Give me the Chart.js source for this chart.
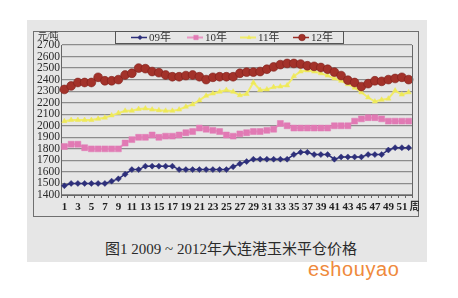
<!DOCTYPE html>
<html>
<head>
<meta charset="utf-8">
<script src="https://cdn.jsdelivr.net/npm/chart.js"></script>
<style>
  html, body { margin:0; padding:0; background:#ffffff; width:458px; height:298px; overflow:hidden; }
  #paper { position:absolute; left:27px; top:20px; width:400px; height:242px; background:#e6e6e6; }
  #frame { position:absolute; left:33px; top:31px; width:386px; height:186px; border:1px solid #6f6f6f; box-sizing:border-box; }
  #wrap { position:absolute; left:33px; top:31px; width:386px; height:186px; }
  #caption { position:absolute; left:0; width:458px; top:237px; text-align:center; font-family:"Liberation Serif","Noto Sans CJK SC",serif; font-size:15px; color:#2a2a2a; padding-left:2px; }
  #caption .cn { font-family:"Noto Sans CJK SC",sans-serif; font-size:15px; }
  #mark { position:absolute; left:308px; top:258px; font-family:"Liberation Sans",Arial,sans-serif; font-size:20px; color:#ef8a3c; letter-spacing:0.6px; }
</style>
</head>
<body>
<div id="paper"></div>
<div id="frame"></div>
<div id="wrap"><canvas id="c"></canvas></div>
<div id="caption"><span class="cn">图</span>1 2009 ~ 2012<span class="cn">年大连港玉米平仓价格</span></div>
<div id="mark">eshouyao</div>
<script>
const weeks = ['1','2','3','4','5','6','7','8','9','10','11','12','13','14','15','16','17','18','19','20','21','22','23','24','25','26','27','28','29','30','31','32','33','34','35','36','37','38','39','40','41','42','43','44','45','46','47','48','49','50','51','52'];
const seriesNames = ['09年','10年','11年','12年'];
const price09 = [1480,1500,1500,1500,1500,1500,1500,1520,1540,1580,1620,1620,1650,1650,1650,1650,1650,1620,1620,1620,1620,1620,1620,1620,1620,1645,1670,1690,1710,1710,1710,1710,1710,1710,1750,1770,1770,1750,1750,1750,1710,1730,1730,1730,1730,1750,1750,1750,1790,1810,1810,1810];
const price10 = [1820,1840,1840,1810,1800,1800,1800,1800,1800,1850,1880,1900,1900,1920,1900,1910,1910,1920,1940,1950,1980,1970,1960,1950,1920,1910,1930,1940,1950,1950,1960,1970,2020,2000,1980,1980,1980,1980,1980,1980,2000,2000,2000,2040,2060,2070,2070,2060,2040,2040,2040,2040];
const price11 = [2040,2050,2050,2050,2050,2060,2070,2090,2110,2130,2130,2145,2150,2140,2135,2130,2130,2140,2165,2185,2220,2260,2280,2295,2310,2295,2265,2275,2375,2310,2315,2335,2340,2350,2430,2470,2480,2470,2455,2435,2410,2390,2360,2330,2290,2245,2210,2225,2235,2305,2270,2290];
const price12 = [2315,2345,2375,2375,2375,2420,2390,2390,2400,2440,2455,2500,2495,2470,2460,2440,2425,2425,2435,2440,2425,2400,2420,2425,2425,2425,2455,2465,2465,2470,2490,2510,2530,2540,2540,2535,2520,2515,2505,2490,2465,2435,2395,2375,2340,2365,2390,2385,2400,2410,2420,2400];
const yMin = 1400, yMax = 2700, yStep = 100;
const unitLabel = '元/吨';
const xUnit = '周';

const serif = '"Liberation Serif","Noto Sans CJK SC",serif';

const decor = {
  id: 'decor',
  afterDraw(chart) {
    const ctx = chart.ctx;
    const a = chart.chartArea;
    ctx.save();
    ctx.strokeStyle = '#666';
    ctx.lineWidth = 1;
    ctx.beginPath();
    ctx.moveTo(Math.round(a.right) + 0.5, a.top);
    ctx.lineTo(Math.round(a.right) + 0.5, a.bottom);
    ctx.stroke();
    ctx.fillStyle = '#333';
    ctx.font = '9px ' + serif;
    ctx.textAlign = 'left';
    ctx.textBaseline = 'middle';
    ctx.fillText(unitLabel, 5, 6);
    const xs = chart.scales.x;
    ctx.font = 'bold 11px ' + serif;
    ctx.textAlign = 'center';
    ctx.fillText(xUnit, xs.getPixelForValue(50) + 13, 176);
    ctx.strokeStyle = '#555';
    ctx.lineWidth = 1;
    ctx.strokeRect(82.5, 0.5, 228, 12);
    const centers = [107, 163, 216, 269];
    chart.data.datasets.forEach((ds, i) => {
      const m = centers[i];
      const y = 6.5;
      ctx.strokeStyle = ds.borderColor;
      ctx.lineWidth = ds.borderWidth;
      ctx.beginPath();
      ctx.moveTo(m - 9, y);
      ctx.lineTo(m + 7, y);
      ctx.stroke();
      ctx.fillStyle = ds.pointBackgroundColor;
      ctx.strokeStyle = ds.pointBorderColor;
      ctx.lineWidth = ds.pointBorderWidth;
      Chart.helpers.drawPoint(ctx, {pointStyle: ds.pointStyle, radius: ds.pointRadius * 0.75, borderWidth: ds.pointBorderWidth}, m, y);
      ctx.fillStyle = '#333';
      ctx.font = '11px ' + serif;
      ctx.textAlign = 'left';
      ctx.textBaseline = 'middle';
      ctx.fillText(ds.label, m + 9, y + 0.5);
    });
    ctx.restore();
  }
};

new Chart(document.getElementById('c'), {
  type: 'line',
  data: {
    labels: weeks,
    datasets: [
      { label: seriesNames[0], data: price09, borderColor: '#2d2f7a', borderWidth: 1.5,
        pointStyle: 'rectRot', pointRadius: 3, pointBackgroundColor: '#2d2f7a', pointBorderColor: '#2d2f7a', pointBorderWidth: 0.5, order: 3 },
      { label: seriesNames[1], data: price10, borderColor: '#e999c4', borderWidth: 2,
        pointStyle: 'rect', pointRadius: 4.2, pointBackgroundColor: '#e17ab4', pointBorderColor: '#e17ab4', pointBorderWidth: 0.5, order: 2 },
      { label: seriesNames[2], data: price11, borderColor: '#f1ec6a', borderWidth: 2,
        pointStyle: 'triangle', pointRadius: 3, pointBackgroundColor: '#eee95a', pointBorderColor: '#eee95a', pointBorderWidth: 0.5, order: 1 },
      { label: seriesNames[3], data: price12, borderColor: '#9a2d25', borderWidth: 1.5,
        pointStyle: 'circle', pointRadius: 4.4, pointBackgroundColor: '#a3322a', pointBorderColor: '#7d1f19', pointBorderWidth: 0.6, order: 0 }
    ]
  },
  options: {
    animation: false,
    responsive: true,
    maintainAspectRatio: false,
    devicePixelRatio: 1,
    layout: { padding: { top: 14, right: 7, left: 0, bottom: 0 } },
    plugins: { legend: { display: false }, tooltip: { enabled: false } },
    elements: { line: { tension: 0 } },
    scales: {
      x: {
        offset: true,
        grid: { display: true, drawOnChartArea: false, drawTicks: true, tickLength: 3, color: '#666', offset: true },
        border: { display: true, color: '#666', width: 1 },
        ticks: {
          autoSkip: false, maxRotation: 0, minRotation: 0, padding: 3,
          color: '#222', font: { family: serif, size: 11, weight: 'bold' },
          callback: function(v, i) { return i % 2 === 0 ? this.getLabelForValue(v) : ''; }
        },
        afterFit(s) { s.height = 22; }
      },
      y: {
        min: yMin, max: yMax,
        grid: { color: '#8c8c8c', lineWidth: 1.3, drawTicks: false },
        border: { display: true, color: '#666', width: 1 },
        ticks: { stepSize: yStep, autoSkip: false, padding: 1, color: '#2a2a2a', font: { family: serif, size: 11.5 },
          callback: (v) => String(v) },
        afterFit(s) { s.width = 28; }
      }
    }
  },
  plugins: [decor]
});
</script>
</body>
</html>
